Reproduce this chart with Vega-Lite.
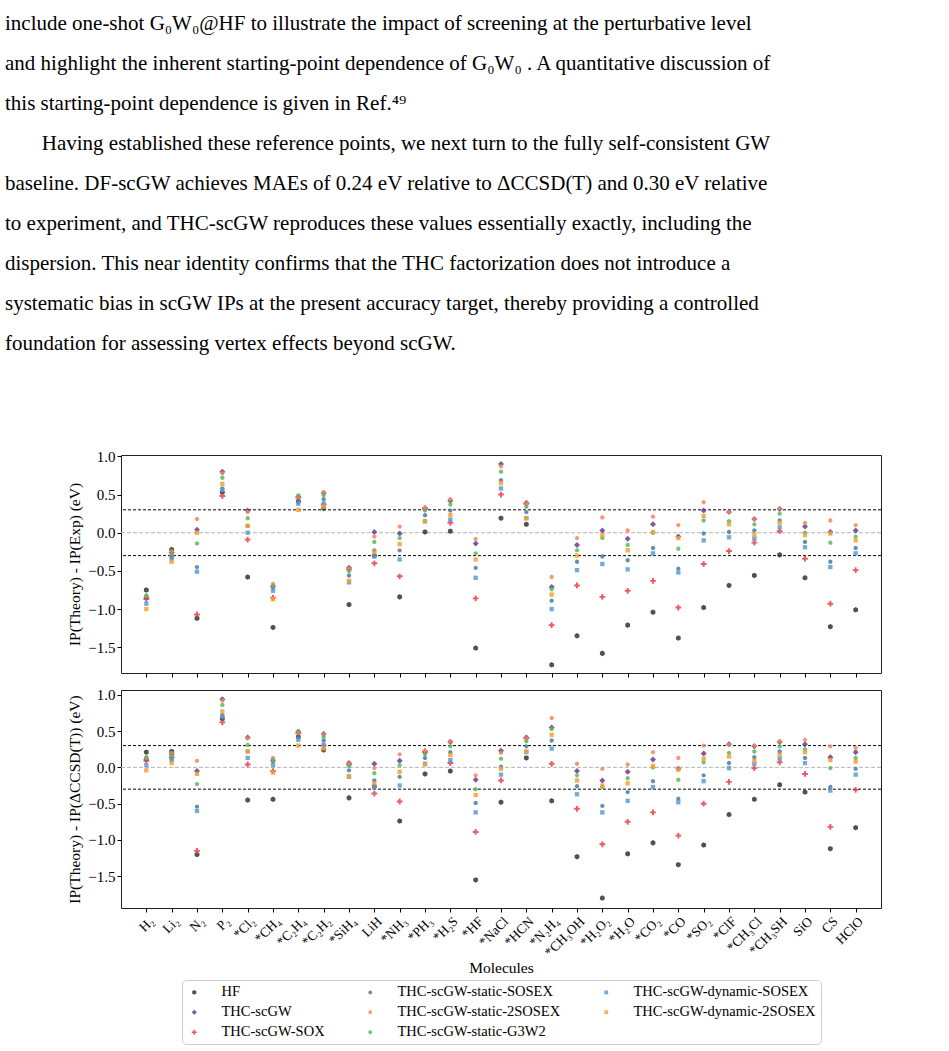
{
  "$schema": "https://vega.github.io/schema/vega-lite/v6.json",
  "padding": {"left": 5, "top": 12, "right": 5, "bottom": 5},
  "config": {
    "font": "Liberation Serif",
    "view": {"stroke": "#222222", "strokeWidth": 1},
    "axis": {
      "domain": false,
      "grid": false,
      "tickColor": "#000000",
      "tickSize": 4,
      "labelFont": "Liberation Serif",
      "labelFontSize": 15,
      "labelColor": "#000000",
      "titleFont": "Liberation Serif",
      "titleFontSize": 15.5,
      "titleFontWeight": "normal",
      "titleColor": "#000000"
    },
    "legend": {
      "orient": "bottom",
      "direction": "horizontal",
      "columns": 3,
      "labelFont": "Liberation Serif",
      "labelFontSize": 14.5,
      "labelColor": "#000000",
      "labelLimit": 400,
      "strokeColor": "#cfcfcf",
      "cornerRadius": 4,
      "padding": 5,
      "rowPadding": 5,
      "columnPadding": 38,
      "symbolSize": 110,
      "symbolOpacity": 0.85,
      "labelOffset": 20,
      "offset": 3,
      "layout": {"bottom": {"anchor": "middle"}}
    }
  },
  "title": {
    "text": [
      "include one-shot G₀W₀@HF to illustrate the impact of screening at the perturbative level",
      "and highlight the inherent starting-point dependence of G₀W₀ . A quantitative discussion of",
      "this starting-point dependence is given in Ref.⁴⁹",
      "\u200b\u00a0\u00a0\u00a0\u00a0\u00a0\u00a0\u00a0Having established these reference points, we next turn to the fully self-consistent GW",
      "baseline. DF-scGW achieves MAEs of 0.24 eV relative to ΔCCSD(T) and 0.30 eV relative",
      "to experiment, and THC-scGW reproduces these values essentially exactly, including the",
      "dispersion. This near identity confirms that the THC factorization does not introduce a",
      "systematic bias in scGW IPs at the present accuracy target, thereby providing a controlled",
      "foundation for assessing vertex effects beyond scGW."
    ],
    "anchor": "start",
    "frame": "group",
    "font": "Liberation Serif",
    "fontSize": 21,
    "fontWeight": "normal",
    "lineHeight": 40,
    "color": "#000000",
    "offset": 95,
    "dx": -116
  },
  "datasets": {
    "vsExp": [
      {"mol": "H₂", "HF": -0.75, "THC-scGW": -0.85, "THC-scGW-SOX": -0.87, "THC-scGW-static-SOSEX": -0.84, "THC-scGW-static-2SOSEX": -0.83, "THC-scGW-static-G3W2": -0.82, "THC-scGW-dynamic-SOSEX": -0.93, "THC-scGW-dynamic-2SOSEX": -1.00},
      {"mol": "Li₂", "HF": -0.22, "THC-scGW": -0.26, "THC-scGW-SOX": -0.30, "THC-scGW-static-SOSEX": -0.33, "THC-scGW-static-2SOSEX": -0.24, "THC-scGW-static-G3W2": -0.28, "THC-scGW-dynamic-SOSEX": -0.34, "THC-scGW-dynamic-2SOSEX": -0.38},
      {"mol": "N₂", "HF": -1.12, "THC-scGW": 0.04, "THC-scGW-SOX": -1.07, "THC-scGW-static-SOSEX": -0.45, "THC-scGW-static-2SOSEX": 0.18, "THC-scGW-static-G3W2": -0.14, "THC-scGW-dynamic-SOSEX": -0.51, "THC-scGW-dynamic-2SOSEX": 0.00},
      {"mol": "P₂", "HF": 0.53, "THC-scGW": 0.80, "THC-scGW-SOX": 0.48, "THC-scGW-static-SOSEX": 0.58, "THC-scGW-static-2SOSEX": 0.78, "THC-scGW-static-G3W2": 0.72, "THC-scGW-dynamic-SOSEX": 0.56, "THC-scGW-dynamic-2SOSEX": 0.64},
      {"mol": "*Cl₂", "HF": -0.58, "THC-scGW": 0.29, "THC-scGW-SOX": -0.09, "THC-scGW-static-SOSEX": 0.09, "THC-scGW-static-2SOSEX": 0.27, "THC-scGW-static-G3W2": 0.19, "THC-scGW-dynamic-SOSEX": 0.00, "THC-scGW-dynamic-2SOSEX": 0.09},
      {"mol": "*CH₄", "HF": -1.24, "THC-scGW": -0.70, "THC-scGW-SOX": -0.85, "THC-scGW-static-SOSEX": -0.72, "THC-scGW-static-2SOSEX": -0.67, "THC-scGW-static-G3W2": -0.70, "THC-scGW-dynamic-SOSEX": -0.76, "THC-scGW-dynamic-2SOSEX": -0.87},
      {"mol": "*C₂H₄", "HF": 0.41, "THC-scGW": 0.47, "THC-scGW-SOX": 0.46, "THC-scGW-static-SOSEX": 0.42, "THC-scGW-static-2SOSEX": 0.47, "THC-scGW-static-G3W2": 0.49, "THC-scGW-dynamic-SOSEX": 0.38, "THC-scGW-dynamic-2SOSEX": 0.30},
      {"mol": "*C₂H₂", "HF": 0.32, "THC-scGW": 0.52, "THC-scGW-SOX": 0.37, "THC-scGW-static-SOSEX": 0.44, "THC-scGW-static-2SOSEX": 0.53, "THC-scGW-static-G3W2": 0.49, "THC-scGW-dynamic-SOSEX": 0.38, "THC-scGW-dynamic-2SOSEX": 0.34},
      {"mol": "*SiH₄", "HF": -0.94, "THC-scGW": -0.46, "THC-scGW-SOX": -0.48, "THC-scGW-static-SOSEX": -0.56, "THC-scGW-static-2SOSEX": -0.47, "THC-scGW-static-G3W2": -0.50, "THC-scGW-dynamic-SOSEX": -0.65, "THC-scGW-dynamic-2SOSEX": -0.63},
      {"mol": "LiH", "HF": -0.30, "THC-scGW": 0.01, "THC-scGW-SOX": -0.40, "THC-scGW-static-SOSEX": -0.23, "THC-scGW-static-2SOSEX": -0.05, "THC-scGW-static-G3W2": -0.12, "THC-scGW-dynamic-SOSEX": -0.31, "THC-scGW-dynamic-2SOSEX": -0.25},
      {"mol": "*NH₃", "HF": -0.84, "THC-scGW": -0.01, "THC-scGW-SOX": -0.57, "THC-scGW-static-SOSEX": -0.23, "THC-scGW-static-2SOSEX": 0.08, "THC-scGW-static-G3W2": -0.07, "THC-scGW-dynamic-SOSEX": -0.35, "THC-scGW-dynamic-2SOSEX": -0.15},
      {"mol": "*PH₃", "HF": 0.01, "THC-scGW": 0.31, "THC-scGW-SOX": 0.32, "THC-scGW-static-SOSEX": 0.23, "THC-scGW-static-2SOSEX": 0.33, "THC-scGW-static-G3W2": 0.29, "THC-scGW-dynamic-SOSEX": 0.15, "THC-scGW-dynamic-2SOSEX": 0.15},
      {"mol": "*H₂S", "HF": 0.02, "THC-scGW": 0.42, "THC-scGW-SOX": 0.13, "THC-scGW-static-SOSEX": 0.29, "THC-scGW-static-2SOSEX": 0.44, "THC-scGW-static-G3W2": 0.37, "THC-scGW-dynamic-SOSEX": 0.17, "THC-scGW-dynamic-2SOSEX": 0.23},
      {"mol": "*HF", "HF": -1.51, "THC-scGW": -0.14, "THC-scGW-SOX": -0.86, "THC-scGW-static-SOSEX": -0.46, "THC-scGW-static-2SOSEX": -0.08, "THC-scGW-static-G3W2": -0.27, "THC-scGW-dynamic-SOSEX": -0.59, "THC-scGW-dynamic-2SOSEX": -0.35},
      {"mol": "*NaCl", "HF": 0.19, "THC-scGW": 0.90, "THC-scGW-SOX": 0.50, "THC-scGW-static-SOSEX": 0.69, "THC-scGW-static-2SOSEX": 0.87, "THC-scGW-static-G3W2": 0.80, "THC-scGW-dynamic-SOSEX": 0.58, "THC-scGW-dynamic-2SOSEX": 0.65},
      {"mol": "*HCN", "HF": 0.11, "THC-scGW": 0.39, "THC-scGW-SOX": 0.38, "THC-scGW-static-SOSEX": 0.27, "THC-scGW-static-2SOSEX": 0.38, "THC-scGW-static-G3W2": 0.34, "THC-scGW-dynamic-SOSEX": 0.19, "THC-scGW-dynamic-2SOSEX": 0.19},
      {"mol": "*N₂H₄", "HF": -1.73, "THC-scGW": -0.71, "THC-scGW-SOX": -1.21, "THC-scGW-static-SOSEX": -0.89, "THC-scGW-static-2SOSEX": -0.58, "THC-scGW-static-G3W2": -0.74, "THC-scGW-dynamic-SOSEX": -1.00, "THC-scGW-dynamic-2SOSEX": -0.81},
      {"mol": "*CH₃OH", "HF": -1.35, "THC-scGW": -0.16, "THC-scGW-SOX": -0.69, "THC-scGW-static-SOSEX": -0.38, "THC-scGW-static-2SOSEX": -0.07, "THC-scGW-static-G3W2": -0.23, "THC-scGW-dynamic-SOSEX": -0.49, "THC-scGW-dynamic-2SOSEX": -0.30},
      {"mol": "*H₂O₂", "HF": -1.58, "THC-scGW": 0.03, "THC-scGW-SOX": -0.84, "THC-scGW-static-SOSEX": -0.31, "THC-scGW-static-2SOSEX": 0.20, "THC-scGW-static-G3W2": -0.07, "THC-scGW-dynamic-SOSEX": -0.41, "THC-scGW-dynamic-2SOSEX": -0.03},
      {"mol": "*H₂O", "HF": -1.21, "THC-scGW": -0.08, "THC-scGW-SOX": -0.76, "THC-scGW-static-SOSEX": -0.36, "THC-scGW-static-2SOSEX": 0.03, "THC-scGW-static-G3W2": -0.16, "THC-scGW-dynamic-SOSEX": -0.48, "THC-scGW-dynamic-2SOSEX": -0.23},
      {"mol": "*CO₂", "HF": -1.04, "THC-scGW": 0.11, "THC-scGW-SOX": -0.63, "THC-scGW-static-SOSEX": -0.20, "THC-scGW-static-2SOSEX": 0.21, "THC-scGW-static-G3W2": 0.00, "THC-scGW-dynamic-SOSEX": -0.27, "THC-scGW-dynamic-2SOSEX": 0.01},
      {"mol": "*CO", "HF": -1.38, "THC-scGW": -0.05, "THC-scGW-SOX": -0.98, "THC-scGW-static-SOSEX": -0.47, "THC-scGW-static-2SOSEX": 0.10, "THC-scGW-static-G3W2": -0.21, "THC-scGW-dynamic-SOSEX": -0.52, "THC-scGW-dynamic-2SOSEX": -0.07},
      {"mol": "*SO₂", "HF": -0.98, "THC-scGW": 0.29, "THC-scGW-SOX": -0.41, "THC-scGW-static-SOSEX": -0.01, "THC-scGW-static-2SOSEX": 0.40, "THC-scGW-static-G3W2": 0.16, "THC-scGW-dynamic-SOSEX": -0.10, "THC-scGW-dynamic-2SOSEX": 0.22},
      {"mol": "*ClF", "HF": -0.69, "THC-scGW": 0.27, "THC-scGW-SOX": -0.24, "THC-scGW-static-SOSEX": 0.01, "THC-scGW-static-2SOSEX": 0.27, "THC-scGW-static-G3W2": 0.15, "THC-scGW-dynamic-SOSEX": -0.06, "THC-scGW-dynamic-2SOSEX": 0.11},
      {"mol": "*CH₃Cl", "HF": -0.56, "THC-scGW": 0.18, "THC-scGW-SOX": -0.13, "THC-scGW-static-SOSEX": 0.03, "THC-scGW-static-2SOSEX": 0.18, "THC-scGW-static-G3W2": 0.11, "THC-scGW-dynamic-SOSEX": -0.08, "THC-scGW-dynamic-2SOSEX": -0.03},
      {"mol": "*CH₃SH", "HF": -0.29, "THC-scGW": 0.31, "THC-scGW-SOX": 0.02, "THC-scGW-static-SOSEX": 0.16, "THC-scGW-static-2SOSEX": 0.32, "THC-scGW-static-G3W2": 0.25, "THC-scGW-dynamic-SOSEX": 0.07, "THC-scGW-dynamic-2SOSEX": 0.13},
      {"mol": "SiO", "HF": -0.59, "THC-scGW": 0.08, "THC-scGW-SOX": -0.34, "THC-scGW-static-SOSEX": -0.12, "THC-scGW-static-2SOSEX": 0.13, "THC-scGW-static-G3W2": 0.00, "THC-scGW-dynamic-SOSEX": -0.19, "THC-scGW-dynamic-2SOSEX": -0.03},
      {"mol": "CS", "HF": -1.23, "THC-scGW": 0.01, "THC-scGW-SOX": -0.93, "THC-scGW-static-SOSEX": -0.38, "THC-scGW-static-2SOSEX": 0.16, "THC-scGW-static-G3W2": -0.13, "THC-scGW-dynamic-SOSEX": -0.45, "THC-scGW-dynamic-2SOSEX": -0.01},
      {"mol": "HClO", "HF": -1.01, "THC-scGW": 0.03, "THC-scGW-SOX": -0.49, "THC-scGW-static-SOSEX": -0.20, "THC-scGW-static-2SOSEX": 0.10, "THC-scGW-static-G3W2": -0.05, "THC-scGW-dynamic-SOSEX": -0.27, "THC-scGW-dynamic-2SOSEX": -0.10}
    ],
    "vsCCSD": [
      {"mol": "H₂", "HF": 0.21, "THC-scGW": 0.11, "THC-scGW-SOX": 0.09, "THC-scGW-static-SOSEX": 0.12, "THC-scGW-static-2SOSEX": 0.13, "THC-scGW-static-G3W2": 0.14, "THC-scGW-dynamic-SOSEX": 0.03, "THC-scGW-dynamic-2SOSEX": -0.04},
      {"mol": "Li₂", "HF": 0.22, "THC-scGW": 0.18, "THC-scGW-SOX": 0.14, "THC-scGW-static-SOSEX": 0.11, "THC-scGW-static-2SOSEX": 0.20, "THC-scGW-static-G3W2": 0.16, "THC-scGW-dynamic-SOSEX": 0.10, "THC-scGW-dynamic-2SOSEX": 0.06},
      {"mol": "N₂", "HF": -1.20, "THC-scGW": -0.05, "THC-scGW-SOX": -1.15, "THC-scGW-static-SOSEX": -0.54, "THC-scGW-static-2SOSEX": 0.09, "THC-scGW-static-G3W2": -0.23, "THC-scGW-dynamic-SOSEX": -0.60, "THC-scGW-dynamic-2SOSEX": -0.09},
      {"mol": "P₂", "HF": 0.67, "THC-scGW": 0.94, "THC-scGW-SOX": 0.62, "THC-scGW-static-SOSEX": 0.72, "THC-scGW-static-2SOSEX": 0.92, "THC-scGW-static-G3W2": 0.86, "THC-scGW-dynamic-SOSEX": 0.70, "THC-scGW-dynamic-2SOSEX": 0.77},
      {"mol": "*Cl₂", "HF": -0.45, "THC-scGW": 0.41, "THC-scGW-SOX": 0.04, "THC-scGW-static-SOSEX": 0.22, "THC-scGW-static-2SOSEX": 0.40, "THC-scGW-static-G3W2": 0.31, "THC-scGW-dynamic-SOSEX": 0.13, "THC-scGW-dynamic-2SOSEX": 0.22},
      {"mol": "*CH₄", "HF": -0.44, "THC-scGW": 0.10, "THC-scGW-SOX": -0.05, "THC-scGW-static-SOSEX": 0.08, "THC-scGW-static-2SOSEX": 0.13, "THC-scGW-static-G3W2": 0.10, "THC-scGW-dynamic-SOSEX": 0.03, "THC-scGW-dynamic-2SOSEX": -0.07},
      {"mol": "*C₂H₄", "HF": 0.42, "THC-scGW": 0.49, "THC-scGW-SOX": 0.47, "THC-scGW-static-SOSEX": 0.41, "THC-scGW-static-2SOSEX": 0.48, "THC-scGW-static-G3W2": 0.50, "THC-scGW-dynamic-SOSEX": 0.38, "THC-scGW-dynamic-2SOSEX": 0.30},
      {"mol": "*C₂H₂", "HF": 0.24, "THC-scGW": 0.46, "THC-scGW-SOX": 0.30, "THC-scGW-static-SOSEX": 0.37, "THC-scGW-static-2SOSEX": 0.45, "THC-scGW-static-G3W2": 0.42, "THC-scGW-dynamic-SOSEX": 0.31, "THC-scGW-dynamic-2SOSEX": 0.26},
      {"mol": "*SiH₄", "HF": -0.42, "THC-scGW": 0.06, "THC-scGW-SOX": 0.04, "THC-scGW-static-SOSEX": -0.04, "THC-scGW-static-2SOSEX": 0.05, "THC-scGW-static-G3W2": 0.02, "THC-scGW-dynamic-SOSEX": -0.13, "THC-scGW-dynamic-2SOSEX": -0.12},
      {"mol": "LiH", "HF": -0.26, "THC-scGW": 0.05, "THC-scGW-SOX": -0.36, "THC-scGW-static-SOSEX": -0.18, "THC-scGW-static-2SOSEX": -0.01, "THC-scGW-static-G3W2": -0.08, "THC-scGW-dynamic-SOSEX": -0.28, "THC-scGW-dynamic-2SOSEX": -0.22},
      {"mol": "*NH₃", "HF": -0.74, "THC-scGW": 0.09, "THC-scGW-SOX": -0.47, "THC-scGW-static-SOSEX": -0.13, "THC-scGW-static-2SOSEX": 0.18, "THC-scGW-static-G3W2": 0.03, "THC-scGW-dynamic-SOSEX": -0.25, "THC-scGW-dynamic-2SOSEX": -0.06},
      {"mol": "*PH₃", "HF": -0.09, "THC-scGW": 0.21, "THC-scGW-SOX": 0.22, "THC-scGW-static-SOSEX": 0.13, "THC-scGW-static-2SOSEX": 0.23, "THC-scGW-static-G3W2": 0.18, "THC-scGW-dynamic-SOSEX": 0.05, "THC-scGW-dynamic-2SOSEX": 0.04},
      {"mol": "*H₂S", "HF": -0.05, "THC-scGW": 0.35, "THC-scGW-SOX": 0.06, "THC-scGW-static-SOSEX": 0.21, "THC-scGW-static-2SOSEX": 0.36, "THC-scGW-static-G3W2": 0.29, "THC-scGW-dynamic-SOSEX": 0.10, "THC-scGW-dynamic-2SOSEX": 0.17},
      {"mol": "*HF", "HF": -1.55, "THC-scGW": -0.17, "THC-scGW-SOX": -0.89, "THC-scGW-static-SOSEX": -0.49, "THC-scGW-static-2SOSEX": -0.11, "THC-scGW-static-G3W2": -0.30, "THC-scGW-dynamic-SOSEX": -0.62, "THC-scGW-dynamic-2SOSEX": -0.38},
      {"mol": "*NaCl", "HF": -0.48, "THC-scGW": 0.23, "THC-scGW-SOX": -0.18, "THC-scGW-static-SOSEX": 0.01, "THC-scGW-static-2SOSEX": 0.20, "THC-scGW-static-G3W2": 0.12, "THC-scGW-dynamic-SOSEX": -0.10, "THC-scGW-dynamic-2SOSEX": -0.02},
      {"mol": "*HCN", "HF": 0.13, "THC-scGW": 0.41, "THC-scGW-SOX": 0.40, "THC-scGW-static-SOSEX": 0.29, "THC-scGW-static-2SOSEX": 0.40, "THC-scGW-static-G3W2": 0.36, "THC-scGW-dynamic-SOSEX": 0.21, "THC-scGW-dynamic-2SOSEX": 0.22},
      {"mol": "*N₂H₄", "HF": -0.46, "THC-scGW": 0.55, "THC-scGW-SOX": 0.05, "THC-scGW-static-SOSEX": 0.37, "THC-scGW-static-2SOSEX": 0.68, "THC-scGW-static-G3W2": 0.53, "THC-scGW-dynamic-SOSEX": 0.26, "THC-scGW-dynamic-2SOSEX": 0.45},
      {"mol": "*CH₃OH", "HF": -1.23, "THC-scGW": -0.05, "THC-scGW-SOX": -0.57, "THC-scGW-static-SOSEX": -0.26, "THC-scGW-static-2SOSEX": 0.05, "THC-scGW-static-G3W2": -0.11, "THC-scGW-dynamic-SOSEX": -0.37, "THC-scGW-dynamic-2SOSEX": -0.18},
      {"mol": "*H₂O₂", "HF": -1.80, "THC-scGW": -0.18, "THC-scGW-SOX": -1.06, "THC-scGW-static-SOSEX": -0.53, "THC-scGW-static-2SOSEX": -0.02, "THC-scGW-static-G3W2": -0.27, "THC-scGW-dynamic-SOSEX": -0.62, "THC-scGW-dynamic-2SOSEX": -0.25},
      {"mol": "*H₂O", "HF": -1.19, "THC-scGW": -0.06, "THC-scGW-SOX": -0.75, "THC-scGW-static-SOSEX": -0.34, "THC-scGW-static-2SOSEX": 0.04, "THC-scGW-static-G3W2": -0.15, "THC-scGW-dynamic-SOSEX": -0.46, "THC-scGW-dynamic-2SOSEX": -0.22},
      {"mol": "*CO₂", "HF": -1.04, "THC-scGW": 0.11, "THC-scGW-SOX": -0.62, "THC-scGW-static-SOSEX": -0.19, "THC-scGW-static-2SOSEX": 0.21, "THC-scGW-static-G3W2": 0.00, "THC-scGW-dynamic-SOSEX": -0.27, "THC-scGW-dynamic-2SOSEX": 0.02},
      {"mol": "*CO", "HF": -1.34, "THC-scGW": -0.02, "THC-scGW-SOX": -0.94, "THC-scGW-static-SOSEX": -0.43, "THC-scGW-static-2SOSEX": 0.13, "THC-scGW-static-G3W2": -0.17, "THC-scGW-dynamic-SOSEX": -0.48, "THC-scGW-dynamic-2SOSEX": -0.03},
      {"mol": "*SO₂", "HF": -1.07, "THC-scGW": 0.19, "THC-scGW-SOX": -0.50, "THC-scGW-static-SOSEX": -0.11, "THC-scGW-static-2SOSEX": 0.30, "THC-scGW-static-G3W2": 0.07, "THC-scGW-dynamic-SOSEX": -0.19, "THC-scGW-dynamic-2SOSEX": 0.12},
      {"mol": "*ClF", "HF": -0.65, "THC-scGW": 0.32, "THC-scGW-SOX": -0.20, "THC-scGW-static-SOSEX": 0.06, "THC-scGW-static-2SOSEX": 0.31, "THC-scGW-static-G3W2": 0.20, "THC-scGW-dynamic-SOSEX": -0.01, "THC-scGW-dynamic-2SOSEX": 0.15},
      {"mol": "*CH₃Cl", "HF": -0.44, "THC-scGW": 0.29, "THC-scGW-SOX": -0.01, "THC-scGW-static-SOSEX": 0.14, "THC-scGW-static-2SOSEX": 0.30, "THC-scGW-static-G3W2": 0.22, "THC-scGW-dynamic-SOSEX": 0.05, "THC-scGW-dynamic-2SOSEX": 0.09},
      {"mol": "*CH₃SH", "HF": -0.24, "THC-scGW": 0.35, "THC-scGW-SOX": 0.07, "THC-scGW-static-SOSEX": 0.22, "THC-scGW-static-2SOSEX": 0.36, "THC-scGW-static-G3W2": 0.29, "THC-scGW-dynamic-SOSEX": 0.12, "THC-scGW-dynamic-2SOSEX": 0.17},
      {"mol": "SiO", "HF": -0.34, "THC-scGW": 0.32, "THC-scGW-SOX": -0.09, "THC-scGW-static-SOSEX": 0.13, "THC-scGW-static-2SOSEX": 0.38, "THC-scGW-static-G3W2": 0.25, "THC-scGW-dynamic-SOSEX": 0.06, "THC-scGW-dynamic-2SOSEX": 0.21},
      {"mol": "CS", "HF": -1.12, "THC-scGW": 0.14, "THC-scGW-SOX": -0.82, "THC-scGW-static-SOSEX": -0.27, "THC-scGW-static-2SOSEX": 0.29, "THC-scGW-static-G3W2": -0.01, "THC-scGW-dynamic-SOSEX": -0.32, "THC-scGW-dynamic-2SOSEX": 0.10},
      {"mol": "HClO", "HF": -0.83, "THC-scGW": 0.21, "THC-scGW-SOX": -0.31, "THC-scGW-static-SOSEX": -0.02, "THC-scGW-static-2SOSEX": 0.27, "THC-scGW-static-G3W2": 0.13, "THC-scGW-dynamic-SOSEX": -0.10, "THC-scGW-dynamic-2SOSEX": 0.08}
    ]
  },
  "bounds": "flush",
  "spacing": 17,
  "vconcat": [
    {
      "width": 760,
      "height": 218,
      "layer": [
        {
          "data": {"values": [{"ref": 0}]},
          "mark": {"type": "rule", "color": "#b5b5b5", "strokeDash": [4, 2], "strokeWidth": 1},
          "encoding": {
            "y": {"field": "ref", "type": "quantitative", "scale": {"domain": [-1.837, 1.018], "nice": false, "zero": false}, "axis": {"values": [-1.5, -1, -0.5, 0, 0.5, 1], "format": ".1f", "labelPadding": 2, "titlePadding": 5}, "title": "IP(Theory) - IP(Exp) (eV)"}
          }
        },
        {
          "data": {"values": [{"ref": 0.3}, {"ref": -0.3}]},
          "mark": {"type": "rule", "color": "#000000", "strokeDash": [3, 2], "strokeWidth": 1},
          "encoding": {
            "y": {"field": "ref", "type": "quantitative", "scale": {"domain": [-1.837, 1.018], "nice": false, "zero": false}, "axis": {"values": [-1.5, -1, -0.5, 0, 0.5, 1], "format": ".1f", "labelPadding": 2, "titlePadding": 5}, "title": "IP(Theory) - IP(Exp) (eV)"}
          }
        },
        {
          "data": {"name": "vsExp"},
          "transform": [
            {"fold": ["HF", "THC-scGW", "THC-scGW-SOX", "THC-scGW-static-SOSEX", "THC-scGW-static-2SOSEX", "THC-scGW-static-G3W2", "THC-scGW-dynamic-SOSEX", "THC-scGW-dynamic-2SOSEX"], "as": ["method", "d"]}
          ],
          "mark": {"type": "point", "filled": true, "opacity": 0.85, "size": 144},
          "encoding": {
            "x": {"field": "mol", "type": "nominal", "sort": null, "scale": {"type": "point", "padding": 1.385}, "axis": {"labels": false, "title": null}},
            "y": {"field": "d", "type": "quantitative", "scale": {"domain": [-1.837, 1.018], "nice": false, "zero": false}, "axis": {"values": [-1.5, -1, -0.5, 0, 0.5, 1], "format": ".1f", "labelPadding": 2, "titlePadding": 5}, "title": "IP(Theory) - IP(Exp) (eV)"},
            "color": {
              "field": "method", "type": "nominal",
              "scale": {
                "domain": ["HF", "THC-scGW-static-SOSEX", "THC-scGW-dynamic-SOSEX", "THC-scGW", "THC-scGW-static-2SOSEX", "THC-scGW-dynamic-2SOSEX", "THC-scGW-SOX", "THC-scGW-static-G3W2"],
                "range": ["#333333", "#4a7aa6", "#5b9bd5", "#6a3d8f", "#f7845e", "#f5a030", "#ec3b44", "#5cb85c"]
              },
              "legend": {"title": null}
            },
            "shape": {
              "field": "method", "type": "nominal",
              "scale": {
                "domain": ["HF", "THC-scGW-static-SOSEX", "THC-scGW-dynamic-SOSEX", "THC-scGW", "THC-scGW-static-2SOSEX", "THC-scGW-dynamic-2SOSEX", "THC-scGW-SOX", "THC-scGW-static-G3W2"],
                "range": [
                  "M0,-0.46L0.4,-0.23L0.4,0.23L0,0.46L-0.4,0.23L-0.4,-0.23Z",
                  "M0.36,0A0.36,0.36,0,1,1,-0.36,0A0.36,0.36,0,1,1,0.36,0Z",
                  "M-0.36,-0.36L0.36,-0.36L0.36,0.36L-0.36,0.36Z",
                  "M0,-0.5L0.5,0L0,0.5L-0.5,0Z",
                  "M0.36,0A0.36,0.36,0,1,1,-0.36,0A0.36,0.36,0,1,1,0.36,0Z",
                  "M-0.36,-0.36L0.36,-0.36L0.36,0.36L-0.36,0.36Z",
                  "M-0.16,-0.48L0.16,-0.48L0.16,-0.16L0.48,-0.16L0.48,0.16L0.16,0.16L0.16,0.48L-0.16,0.48L-0.16,0.16L-0.48,0.16L-0.48,-0.16L-0.16,-0.16Z",
                  "M0.36,0A0.36,0.36,0,1,1,-0.36,0A0.36,0.36,0,1,1,0.36,0Z"
                ]
              },
              "legend": {"title": null}
            }
          }
        }
      ]
    },
    {
      "width": 760,
      "height": 218,
      "layer": [
        {
          "data": {"values": [{"ref": 0}]},
          "mark": {"type": "rule", "color": "#b5b5b5", "strokeDash": [4, 2], "strokeWidth": 1},
          "encoding": {
            "y": {"field": "ref", "type": "quantitative", "scale": {"domain": [-1.937, 1.066], "nice": false, "zero": false}, "axis": {"values": [-1.5, -1, -0.5, 0, 0.5, 1], "format": ".1f", "labelPadding": 2, "titlePadding": 5}, "title": "IP(Theory) - IP(ΔCCSD(T)) (eV)"}
          }
        },
        {
          "data": {"values": [{"ref": 0.3}, {"ref": -0.3}]},
          "mark": {"type": "rule", "color": "#000000", "strokeDash": [3, 2], "strokeWidth": 1},
          "encoding": {
            "y": {"field": "ref", "type": "quantitative", "scale": {"domain": [-1.937, 1.066], "nice": false, "zero": false}, "axis": {"values": [-1.5, -1, -0.5, 0, 0.5, 1], "format": ".1f", "labelPadding": 2, "titlePadding": 5}, "title": "IP(Theory) - IP(ΔCCSD(T)) (eV)"}
          }
        },
        {
          "data": {"name": "vsCCSD"},
          "transform": [
            {"fold": ["HF", "THC-scGW", "THC-scGW-SOX", "THC-scGW-static-SOSEX", "THC-scGW-static-2SOSEX", "THC-scGW-static-G3W2", "THC-scGW-dynamic-SOSEX", "THC-scGW-dynamic-2SOSEX"], "as": ["method", "d"]}
          ],
          "mark": {"type": "point", "filled": true, "opacity": 0.85, "size": 144},
          "encoding": {
            "x": {"field": "mol", "type": "nominal", "sort": null, "scale": {"type": "point", "padding": 1.385}, "axis": {"labelAngle": -45, "labelFontSize": 13.5, "labelPadding": 2, "title": "Molecules", "titlePadding": 2}},
            "y": {"field": "d", "type": "quantitative", "scale": {"domain": [-1.937, 1.066], "nice": false, "zero": false}, "axis": {"values": [-1.5, -1, -0.5, 0, 0.5, 1], "format": ".1f", "labelPadding": 2, "titlePadding": 5}, "title": "IP(Theory) - IP(ΔCCSD(T)) (eV)"},
            "color": {
              "field": "method", "type": "nominal",
              "scale": {
                "domain": ["HF", "THC-scGW-static-SOSEX", "THC-scGW-dynamic-SOSEX", "THC-scGW", "THC-scGW-static-2SOSEX", "THC-scGW-dynamic-2SOSEX", "THC-scGW-SOX", "THC-scGW-static-G3W2"],
                "range": ["#333333", "#4a7aa6", "#5b9bd5", "#6a3d8f", "#f7845e", "#f5a030", "#ec3b44", "#5cb85c"]
              },
              "legend": {"title": null}
            },
            "shape": {
              "field": "method", "type": "nominal",
              "scale": {
                "domain": ["HF", "THC-scGW-static-SOSEX", "THC-scGW-dynamic-SOSEX", "THC-scGW", "THC-scGW-static-2SOSEX", "THC-scGW-dynamic-2SOSEX", "THC-scGW-SOX", "THC-scGW-static-G3W2"],
                "range": [
                  "M0,-0.46L0.4,-0.23L0.4,0.23L0,0.46L-0.4,0.23L-0.4,-0.23Z",
                  "M0.36,0A0.36,0.36,0,1,1,-0.36,0A0.36,0.36,0,1,1,0.36,0Z",
                  "M-0.36,-0.36L0.36,-0.36L0.36,0.36L-0.36,0.36Z",
                  "M0,-0.5L0.5,0L0,0.5L-0.5,0Z",
                  "M0.36,0A0.36,0.36,0,1,1,-0.36,0A0.36,0.36,0,1,1,0.36,0Z",
                  "M-0.36,-0.36L0.36,-0.36L0.36,0.36L-0.36,0.36Z",
                  "M-0.16,-0.48L0.16,-0.48L0.16,-0.16L0.48,-0.16L0.48,0.16L0.16,0.16L0.16,0.48L-0.16,0.48L-0.16,0.16L-0.48,0.16L-0.48,-0.16L-0.16,-0.16Z",
                  "M0.36,0A0.36,0.36,0,1,1,-0.36,0A0.36,0.36,0,1,1,0.36,0Z"
                ]
              },
              "legend": {"title": null}
            }
          }
        }
      ]
    }
  ]
}
